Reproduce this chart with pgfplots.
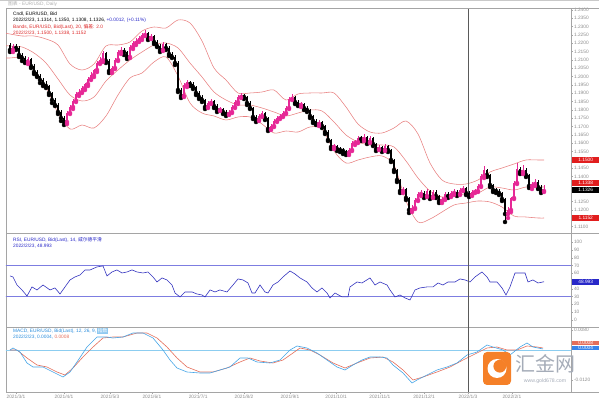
\documentclass[border=0pt]{standalone}
\usepackage{pgfplots}
\pgfplotsset{compat=1.18}
\usepackage{pgfplotstable}
\usepackage{fontspec}
\setmainfont{Liberation Sans}
\newfontfamily\cjk{Noto Sans CJK SC}
\definecolor{upc}{RGB}{230,40,150}
\definecolor{bandc}{RGB}{232,128,128}
\definecolor{rsic}{RGB}{50,50,190}
\definecolor{lvlc}{RGB}{125,125,225}
\definecolor{macdc}{RGB}{70,165,230}
\definecolor{sigc}{RGB}{228,110,90}
\definecolor{zeroc}{RGB}{140,205,240}
\definecolor{framec}{RGB}{165,165,165}
\definecolor{tickc}{RGB}{140,140,140}
\definecolor{redlab}{RGB}{225,30,30}
\definecolor{orangec}{RGB}{245,128,40}
\definecolor{txtblue}{RGB}{40,40,200}
\definecolor{mtxt}{RGB}{40,140,220}
\definecolor{bandtxt}{RGB}{220,40,40}
\definecolor{vlinec}{RGB}{90,90,90}
\definecolor{wmc}{RGB}{165,172,184}
\newcommand{\tf}{\fontsize{4.8}{5.2}\selectfont}

\pgfplotstableread{
i o h l c
1 1.2160 1.2196 1.2148 1.2184
6 1.2088 1.2118 1.2076 1.2106
19 1.1728 1.1794 1.1716 1.1782
20 1.1782 1.1830 1.1776 1.1818
21 1.1818 1.1866 1.1806 1.1854
22 1.1854 1.1908 1.1848 1.1896
23 1.1896 1.1926 1.1884 1.1908
24 1.1908 1.1944 1.1902 1.1932
25 1.1932 1.1962 1.1920 1.1956
26 1.1956 1.1998 1.1944 1.1986
27 1.1986 1.2028 1.1980 1.2010
28 1.2010 1.2046 1.1998 1.2040
29 1.2040 1.2094 1.2028 1.2082
30 1.2082 1.2118 1.2076 1.2100
31 1.2100 1.2154 1.2088 1.2142
34 1.2034 1.2064 1.2022 1.2052
35 1.2052 1.2112 1.2046 1.2100
36 1.2100 1.2160 1.2094 1.2148
37 1.2148 1.2178 1.2136 1.2160
40 1.2118 1.2190 1.2112 1.2178
41 1.2178 1.2214 1.2166 1.2202
42 1.2202 1.2232 1.2190 1.2214
43 1.2214 1.2244 1.2208 1.2232
44 1.2232 1.2262 1.2220 1.2250
45 1.2250 1.2280 1.2244 1.2262
47 1.2232 1.2256 1.2226 1.2244
51 1.2160 1.2208 1.2154 1.2196
58 1.1884 1.1962 1.1878 1.1950
59 1.1950 1.1980 1.1938 1.1968
66 1.1818 1.1854 1.1812 1.1842
67 1.1842 1.1866 1.1836 1.1854
70 1.1800 1.1818 1.1794 1.1806
73 1.1776 1.1800 1.1770 1.1788
74 1.1788 1.1830 1.1782 1.1818
75 1.1818 1.1860 1.1812 1.1848
76 1.1848 1.1890 1.1836 1.1878
77 1.1878 1.1902 1.1872 1.1890
83 1.1740 1.1776 1.1734 1.1764
84 1.1764 1.1794 1.1758 1.1782
87 1.1686 1.1716 1.1680 1.1704
88 1.1704 1.1746 1.1698 1.1734
89 1.1734 1.1764 1.1728 1.1752
90 1.1752 1.1776 1.1746 1.1764
91 1.1764 1.1794 1.1758 1.1782
92 1.1782 1.1824 1.1776 1.1812
93 1.1812 1.1878 1.1806 1.1866
94 1.1866 1.1896 1.1860 1.1878
97 1.1830 1.1848 1.1818 1.1836
103 1.1716 1.1740 1.1704 1.1728
108 1.1578 1.1596 1.1566 1.1584
113 1.1542 1.1572 1.1530 1.1560
114 1.1560 1.1614 1.1554 1.1602
115 1.1602 1.1620 1.1590 1.1608
116 1.1608 1.1644 1.1602 1.1632
118 1.1626 1.1656 1.1614 1.1638
120 1.1608 1.1644 1.1602 1.1632
123 1.1566 1.1590 1.1560 1.1578
125 1.1560 1.1596 1.1554 1.1584
131 1.1314 1.1338 1.1302 1.1326
134 1.1200 1.1230 1.1188 1.1212
135 1.1212 1.1272 1.1206 1.1260
136 1.1260 1.1308 1.1254 1.1296
137 1.1296 1.1320 1.1284 1.1302
139 1.1284 1.1326 1.1278 1.1314
141 1.1278 1.1320 1.1272 1.1308
144 1.1254 1.1278 1.1242 1.1266
145 1.1266 1.1308 1.1260 1.1296
147 1.1284 1.1314 1.1278 1.1302
148 1.1302 1.1326 1.1290 1.1308
150 1.1296 1.1332 1.1290 1.1320
151 1.1320 1.1344 1.1314 1.1332
154 1.1290 1.1320 1.1284 1.1308
155 1.1308 1.1326 1.1302 1.1314
156 1.1314 1.1356 1.1308 1.1344
157 1.1344 1.1416 1.1338 1.1404
158 1.1404 1.1464 1.1392 1.1440
166 1.1176 1.1218 1.1152 1.1200
167 1.1200 1.1278 1.1188 1.1272
168 1.1272 1.1374 1.1266 1.1362
169 1.1362 1.1482 1.1356 1.1446
171 1.1428 1.1470 1.1416 1.1440
174 1.1344 1.1368 1.1326 1.1356
175 1.1356 1.1386 1.1344 1.1368
178 1.1314 1.1350 1.1308 1.1326
}\tabup

\pgfplotstableread{
i o h l c
0 1.2190 1.2202 1.2148 1.2160
2 1.2184 1.2196 1.2160 1.2172
3 1.2172 1.2184 1.2118 1.2130
4 1.2130 1.2142 1.2094 1.2112
5 1.2112 1.2124 1.2082 1.2088
7 1.2106 1.2112 1.2052 1.2064
8 1.2064 1.2076 1.2016 1.2028
9 1.2028 1.2040 1.1998 1.2004
10 1.2004 1.2016 1.1962 1.1980
11 1.1980 1.1992 1.1944 1.1956
12 1.1956 1.1974 1.1932 1.1944
13 1.1944 1.1950 1.1890 1.1902
14 1.1902 1.1908 1.1842 1.1860
15 1.1860 1.1872 1.1824 1.1830
16 1.1830 1.1842 1.1776 1.1788
17 1.1788 1.1800 1.1734 1.1752
18 1.1752 1.1764 1.1710 1.1728
32 1.2142 1.2148 1.2082 1.2094
33 1.2094 1.2106 1.2022 1.2034
38 1.2160 1.2172 1.2130 1.2148
39 1.2148 1.2154 1.2106 1.2118
46 1.2262 1.2268 1.2220 1.2232
48 1.2244 1.2250 1.2196 1.2208
49 1.2208 1.2220 1.2178 1.2184
50 1.2184 1.2196 1.2148 1.2160
52 1.2196 1.2202 1.2160 1.2172
53 1.2172 1.2184 1.2124 1.2136
54 1.2136 1.2148 1.2112 1.2118
55 1.2118 1.2130 1.2070 1.2082
56 1.2082 1.2094 1.1908 1.1920
57 1.1920 1.1932 1.1872 1.1884
60 1.1968 1.1974 1.1944 1.1956
61 1.1956 1.1968 1.1926 1.1938
62 1.1938 1.1944 1.1890 1.1902
63 1.1902 1.1914 1.1866 1.1878
64 1.1878 1.1890 1.1848 1.1860
65 1.1860 1.1866 1.1806 1.1818
68 1.1854 1.1860 1.1812 1.1824
69 1.1824 1.1836 1.1788 1.1800
71 1.1806 1.1812 1.1776 1.1788
72 1.1788 1.1800 1.1764 1.1776
78 1.1890 1.1896 1.1866 1.1878
79 1.1878 1.1884 1.1830 1.1842
80 1.1842 1.1854 1.1806 1.1812
81 1.1812 1.1818 1.1746 1.1758
82 1.1758 1.1770 1.1728 1.1740
85 1.1782 1.1788 1.1740 1.1752
86 1.1752 1.1758 1.1674 1.1686
95 1.1878 1.1884 1.1836 1.1848
96 1.1848 1.1860 1.1824 1.1830
98 1.1836 1.1842 1.1800 1.1812
99 1.1812 1.1824 1.1788 1.1800
100 1.1800 1.1806 1.1752 1.1764
101 1.1764 1.1770 1.1722 1.1734
102 1.1734 1.1746 1.1710 1.1716
104 1.1728 1.1734 1.1692 1.1704
105 1.1704 1.1710 1.1656 1.1668
106 1.1668 1.1680 1.1614 1.1620
107 1.1620 1.1626 1.1566 1.1578
109 1.1584 1.1590 1.1554 1.1566
110 1.1566 1.1578 1.1548 1.1560
111 1.1560 1.1572 1.1536 1.1554
112 1.1554 1.1560 1.1530 1.1542
117 1.1632 1.1644 1.1614 1.1626
119 1.1638 1.1644 1.1596 1.1608
121 1.1632 1.1638 1.1584 1.1596
122 1.1596 1.1602 1.1554 1.1566
124 1.1578 1.1584 1.1548 1.1560
126 1.1584 1.1590 1.1548 1.1560
127 1.1560 1.1566 1.1488 1.1500
128 1.1500 1.1506 1.1428 1.1440
129 1.1440 1.1446 1.1368 1.1380
130 1.1380 1.1386 1.1302 1.1314
132 1.1326 1.1332 1.1260 1.1272
133 1.1272 1.1278 1.1182 1.1200
138 1.1302 1.1314 1.1272 1.1284
140 1.1314 1.1320 1.1266 1.1278
142 1.1308 1.1320 1.1272 1.1284
143 1.1284 1.1290 1.1242 1.1254
146 1.1296 1.1308 1.1272 1.1284
149 1.1308 1.1320 1.1284 1.1296
152 1.1332 1.1338 1.1290 1.1302
153 1.1302 1.1314 1.1278 1.1290
159 1.1440 1.1446 1.1398 1.1410
160 1.1410 1.1416 1.1338 1.1350
161 1.1350 1.1356 1.1308 1.1320
162 1.1320 1.1332 1.1302 1.1314
163 1.1314 1.1326 1.1290 1.1302
164 1.1302 1.1308 1.1254 1.1266
165 1.1266 1.1272 1.1128 1.1176
170 1.1446 1.1458 1.1416 1.1428
172 1.1440 1.1452 1.1398 1.1410
173 1.1410 1.1416 1.1332 1.1344
176 1.1368 1.1380 1.1326 1.1338
177 1.1338 1.1350 1.1302 1.1314
}\tabdn

\pgfplotsset{panel/.style={
  scale only axis, width=565pt, anchor=south west,
  xmin=-1.333, xmax=187,
  axis line style={draw=framec, line width=0.6pt},
  xtick=\empty,
  ytick pos=right, yticklabel pos=right,
  tick align=outside, major tick length=1.8pt,
  tick style={draw=framec, line width=0.4pt},
  yticklabel style={font=\tf, text=tickc, /pgf/number format/assume math mode=true, inner sep=1pt},
  scaled y ticks=false,
}}

\begin{document}
\begin{tikzpicture}
\path[use as bounding box] (0,0) rectangle (599pt,406pt);

% ---------- price panel ----------
\begin{axis}[panel, at={(6pt,173pt)}, height=225pt, ymin=1.1062, ymax=1.2412,
  ytick={1.110,1.120,1.125,1.140,1.145,1.155,1.160,1.165,1.170,1.175,1.180,1.185,1.190,1.195,1.200,1.205,1.210,1.215,1.220,1.225,1.230,1.235,1.240},
  yticklabel style={/pgf/number format/fixed, /pgf/number format/fixed zerofill, /pgf/number format/precision=4}]
\addplot[bandc, line width=0.55pt, smooth] coordinates {(-1.4,1.2260) (0,1.2256) (4,1.2244) (8,1.2244) (12,1.2226) (16,1.2190) (20,1.2076) (24,1.2040) (28,1.2076) (32,1.2184) (36,1.2190) (40,1.2208) (44,1.2274) (48,1.2298) (52,1.2292) (56,1.2340) (60,1.2322) (64,1.2214) (68,1.2052) (72,1.1980) (76,1.1902) (80,1.1902) (84,1.1908) (88,1.1920) (92,1.1860) (96,1.1896) (100,1.1902) (104,1.1902) (108,1.1902) (112,1.1818) (116,1.1716) (120,1.1668) (124,1.1662) (128,1.1692) (132,1.1734) (136,1.1656) (140,1.1482) (144,1.1380) (148,1.1356) (152,1.1356) (156,1.1380) (160,1.1428) (164,1.1452) (168,1.1476) (172,1.1500) (176,1.1500) (178,1.1500)};
\addplot[bandc, line width=0.55pt, smooth] coordinates {(-1.4,1.2186) (0,1.2184) (4,1.2178) (8,1.2142) (12,1.2082) (16,1.1986) (20,1.1890) (24,1.1854) (28,1.1878) (32,1.1974) (36,1.2040) (40,1.2100) (44,1.2148) (48,1.2190) (52,1.2202) (56,1.2172) (60,1.2082) (64,1.1998) (68,1.1908) (72,1.1860) (76,1.1830) (80,1.1830) (84,1.1812) (88,1.1788) (92,1.1764) (96,1.1782) (100,1.1800) (104,1.1794) (108,1.1728) (112,1.1650) (116,1.1608) (120,1.1590) (124,1.1590) (128,1.1578) (132,1.1494) (136,1.1392) (140,1.1314) (144,1.1278) (148,1.1290) (152,1.1296) (156,1.1302) (160,1.1338) (164,1.1332) (168,1.1320) (172,1.1338) (176,1.1338) (178,1.1338)};
\addplot[bandc, line width=0.55pt, smooth] coordinates {(-1.4,1.2112) (0,1.2112) (4,1.2112) (8,1.2040) (12,1.1938) (16,1.1782) (20,1.1686) (24,1.1710) (28,1.1692) (32,1.1764) (36,1.1890) (40,1.1992) (44,1.2022) (48,1.2088) (52,1.2118) (56,1.2004) (60,1.1842) (64,1.1782) (68,1.1764) (72,1.1740) (76,1.1758) (80,1.1758) (84,1.1716) (88,1.1662) (92,1.1674) (96,1.1668) (100,1.1698) (104,1.1686) (108,1.1554) (112,1.1482) (116,1.1500) (120,1.1518) (124,1.1524) (128,1.1470) (132,1.1254) (136,1.1128) (140,1.1146) (144,1.1188) (148,1.1230) (152,1.1242) (156,1.1254) (160,1.1248) (164,1.1218) (168,1.1164) (172,1.1158) (176,1.1152) (178,1.1152)};
% down candles (black)
\addplot[color=black, only marks, mark=none, error bars/.cd, y dir=plus, y explicit, error mark=none,
  error bar style={color=black, line width=0.55pt}]
  table[x=i, y=l, y error plus expr=\thisrow{h}-\thisrow{l}] \tabdn;
\addplot[color=black, only marks, mark=none, error bars/.cd, y dir=plus, y explicit, error mark=none,
  error bar style={color=black, line width=1.5pt}]
  table[x=i, y=c, y error plus expr=\thisrow{o}-\thisrow{c}] \tabdn;
% up candles (magenta)
\addplot[color=upc, only marks, mark=none, error bars/.cd, y dir=plus, y explicit, error mark=none,
  error bar style={color=upc, line width=0.55pt}]
  table[x=i, y=l, y error plus expr=\thisrow{h}-\thisrow{l}] \tabup;
\addplot[color=upc, only marks, mark=none, error bars/.cd, y dir=plus, y explicit, error mark=none,
  error bar style={color=upc, line width=1.5pt}]
  table[x=i, y=o, y error plus expr=\thisrow{c}-\thisrow{o}] \tabup;
\addplot[vlinec, line width=0.9pt] coordinates {(152.67,1.1062) (152.67,1.2412)};
\end{axis}

% ---------- RSI panel ----------
\begin{axis}[panel, at={(6pt,79pt)}, height=94pt, ymin=-9.4, ymax=111.9, ytick={0,10,20,30,40,60,70,80,90,100}]
\addplot[lvlc, line width=0.7pt] coordinates {(-2,70) (188,70)};
\addplot[lvlc, line width=0.7pt] coordinates {(-2,30) (188,30)};
\addplot[rsic, line width=0.6pt] coordinates {(0,56.5) (1,55.2) (2.33,44.8) (4,38.4) (5.67,30.6) (7.33,42.3) (9,38.4) (11,44.8) (13.33,38.4) (15,41.0) (16.67,33.2) (18.33,42.3) (20,51.3) (21.67,55.2) (23.33,57.7) (25,64.2) (26.67,64.2) (29,68.1) (31,69.4) (32.33,56.5) (34,61.6) (35.67,64.2) (37.33,60.3) (39,61.6) (40.67,64.2) (42.33,61.6) (44.33,60.3) (46,61.6) (47.67,55.2) (49,48.7) (50.67,53.9) (52.33,51.3) (54,44.8) (55,34.5) (56.67,29.4) (58.33,35.8) (60.67,35.8) (62.33,33.2) (64,31.9) (65,29.4) (66.67,38.4) (68.33,35.8) (70,38.4) (72.33,35.8) (74.33,44.8) (76,52.6) (77.67,51.3) (79.33,47.4) (80.67,34.5) (81.67,34.5) (83.33,44.8) (85,35.8) (86,34.5) (87.67,44.8) (89.33,48.7) (91,55.2) (93.33,62.9) (95,59.0) (96.67,53.9) (99,48.7) (100.67,41.0) (102.33,35.8) (104,41.0) (105.67,34.5) (106.67,28.1) (108.33,34.5) (110.67,29.4) (112.67,29.4) (113.33,42.3) (115.67,48.7) (117.33,47.4) (120,53.9) (121.67,44.8) (123.33,48.7) (125.67,44.8) (126.67,38.4) (128.33,29.4) (130,31.9) (131.67,28.1) (133.33,25.5) (135,38.4) (136.67,41.0) (139,42.3) (141,42.3) (142.67,47.4) (144.33,44.8) (146,48.7) (148.33,48.7) (150,52.6) (151.67,51.3) (153.33,48.7) (155,55.2) (157.33,61.6) (159,55.2) (160,48.7) (162.33,48.7) (164,41.0) (165.33,31.9) (166.67,42.3) (168.33,60.3) (170,60.3) (171.67,60.3) (172.67,48.7) (174.33,51.3) (176,47.4) (178,49.0)};
\addplot[vlinec, line width=0.9pt] coordinates {(152.67,-9.4) (152.67,111.9)};
\end{axis}

% ---------- MACD panel ----------
\begin{axis}[panel, at={(6pt,14pt)}, height=65pt, ymin=-0.0168, ymax=0.0092,
  ytick={-0.012,0.008},
  yticklabel style={/pgf/number format/fixed, /pgf/number format/fixed zerofill, /pgf/number format/precision=4},
  xtick={2,18,33.3,47.3,62.7,78,93.3,108.7,123.3,138,152.67,167.3},
  xticklabels={2021/3/1,2021/4/1,2021/5/3,2021/6/1,2021/7/1,2021/8/2,2021/9/1,2021/10/1,2021/11/1,2021/12/1,2022/1/3,2022/2/1},
  xtick pos=bottom, xticklabel style={font=\tf, text=tickc, inner sep=1pt}]
\addplot[zeroc, line width=0.7pt] coordinates {(-2,0) (188,0)};
\addplot[sigc, line width=0.6pt] coordinates {(0,0.0000) (2.33,0.0000) (5.67,-0.0032) (9,-0.0060) (12.33,-0.0068) (15.67,-0.0088) (18.33,-0.0100) (21,-0.0072) (24.33,-0.0028) (27.67,0.0012) (31,0.0048) (34.33,0.0052) (37.67,0.0052) (42.33,0.0068) (45.67,0.0068) (49,0.0048) (52.33,0.0012) (55.67,-0.0032) (59,-0.0068) (63.33,-0.0088) (67.67,-0.0088) (72.33,-0.0072) (76.67,-0.0048) (80,-0.0032) (83.33,-0.0044) (87.67,-0.0052) (91,-0.0040) (94.33,-0.0012) (96.67,0.0008) (100,0.0000) (103.33,-0.0020) (107.67,-0.0052) (111.67,-0.0072) (115.67,-0.0052) (120,-0.0032) (124.33,-0.0028) (127.67,-0.0048) (131,-0.0080) (134.33,-0.0120) (137.67,-0.0108) (142.33,-0.0088) (146.67,-0.0068) (151,-0.0040) (154.33,-0.0020) (159,0.0008) (162.33,0.0012) (165.67,0.0000) (169,0.0000) (172.33,0.0016) (175.67,0.0012) (177.67,0.0008)};
\addplot[macdc, line width=0.6pt] coordinates {(0,0.0000) (1,0.0008) (3.33,-0.0008) (5.67,-0.0052) (7.67,-0.0068) (11,-0.0068) (14.33,-0.0088) (17.67,-0.0108) (20,-0.0088) (22.33,-0.0048) (25.67,0.0012) (29,0.0052) (32.33,0.0052) (34.33,0.0048) (37.67,0.0052) (41,0.0068) (44.33,0.0068) (47.67,0.0048) (51,0.0000) (53.33,-0.0040) (55.67,-0.0072) (59,-0.0088) (63.33,-0.0092) (66.67,-0.0092) (70,-0.0080) (73.33,-0.0068) (76.67,-0.0032) (79.33,-0.0032) (82.33,-0.0048) (86.67,-0.0052) (90,-0.0040) (93.33,0.0000) (95.67,0.0016) (99,0.0008) (102.33,-0.0012) (105.67,-0.0040) (109,-0.0068) (111.67,-0.0080) (114.33,-0.0060) (117.33,-0.0040) (120,-0.0028) (123.33,-0.0028) (125.67,-0.0032) (127.67,-0.0060) (131,-0.0092) (134,-0.0132) (135.67,-0.0120) (139,-0.0100) (142.33,-0.0080) (145.67,-0.0068) (149,-0.0052) (152.33,-0.0020) (155.67,-0.0008) (159,0.0020) (161,0.0012) (164.33,0.0000) (166.67,-0.0020) (170,0.0012) (172.33,0.0028) (174.33,0.0012) (177.67,0.0004)};
\addplot[vlinec, line width=0.9pt] coordinates {(152.67,-0.0168) (152.67,0.0092)};
\end{axis}

% ---------- frame pieces ----------
\draw[framec, line width=0.6pt] (6pt,398pt) -- (599pt,398pt);
\draw[framec, line width=0.6pt] (571pt,173pt) -- (599pt,173pt);
\draw[framec, line width=0.6pt] (571pt,79pt) -- (599pt,79pt);
\draw[framec, line width=0.6pt] (571pt,14pt) -- (599pt,14pt);
\draw[framec!60, line width=0.5pt] (0pt,405.5pt) -- (599pt,405.5pt);
\node[anchor=west, inner sep=0, font=\tf, text=tickc!70] at (8pt,402pt) {{\cjk 图表} - EUR/USD, Daily};

% ---------- legends ----------
\node[anchor=west, inner sep=0, font=\tf] at (13pt,392pt) {Cndl, EUR/USD, Bid};
\node[anchor=west, inner sep=0, font=\tf] at (13pt,385.5pt) {2022/2/23, 1.1314, 1.1350, 1.1308, 1.1326, \textcolor{txtblue}{+0.0012, (+0.11\%)}};
\node[anchor=west, inner sep=0, font=\tf, text=bandtxt] at (13pt,379pt) {Bands, EUR/USD, Bid(Last), 20, {\cjk 偏差}: 2.0};
\node[anchor=west, inner sep=0, font=\tf, text=bandtxt] at (13pt,372.5pt) {2022/2/23, 1.1500, 1.1338, 1.1152};
\node[anchor=west, inner sep=0, font=\tf, text=txtblue] at (13pt,166pt) {RSI, EUR/USD, Bid(Last), 14, {\cjk 威尔德平滑}};
\node[anchor=west, inner sep=0, font=\tf, text=txtblue] at (13pt,159.5pt) {2022/2/23, 48.993};
\node[anchor=west, inner sep=0, font=\tf, text=mtxt] at (13pt,75pt) {MACD, EUR/USD, Bid(Last), 12, 26, 9, \setlength{\fboxsep}{0.4pt}\colorbox{macdc!60}{\textcolor{white}{\cjk 指数}}};
\node[anchor=west, inner sep=0, font=\tf, text=mtxt] at (13pt,68.5pt) {2022/2/23, 0.0004, \textcolor{sigc}{0.0008}};

% ---------- right scale markers ----------
\tikzset{lab/.style={anchor=west, inner sep=0.4pt, minimum width=27pt, minimum height=6pt, font=\tf, text=white}}
\node[lab, fill=redlab] at (572pt,246pt) {1.1500};
\node[lab, fill=redlab] at (572pt,223pt) {1.1338};
\node[lab, fill=black] at (572pt,216pt) {1.1326};
\node[lab, fill=redlab] at (572pt,188pt) {1.1152};
\node[lab, fill=txtblue] at (572pt,124pt) {48.993};
\node[lab, fill=sigc, minimum height=4.8pt] at (572pt,63pt) {0.0008};
\node[lab, fill=macdc!80!blue, minimum height=4.8pt] at (572pt,58pt) {0.0004};

% ---------- watermark ----------
\fill[orangec, rounded corners=4pt] (483pt,21pt) rectangle (511pt,54pt);
\fill[white] (497pt,37.5pt) circle (9.5pt);
\fill[orangec] (499.8pt,39.8pt) circle (6.4pt);
\node[font=\cjk\fontsize{20}{20}\selectfont, text=wmc, inner sep=0] at (545pt,42pt) {汇金网};
\node[font=\fontsize{5.2}{6}\selectfont, text=wmc, inner sep=0] at (545pt,25pt) {www.gold678.com};
\end{tikzpicture}
\end{document}
